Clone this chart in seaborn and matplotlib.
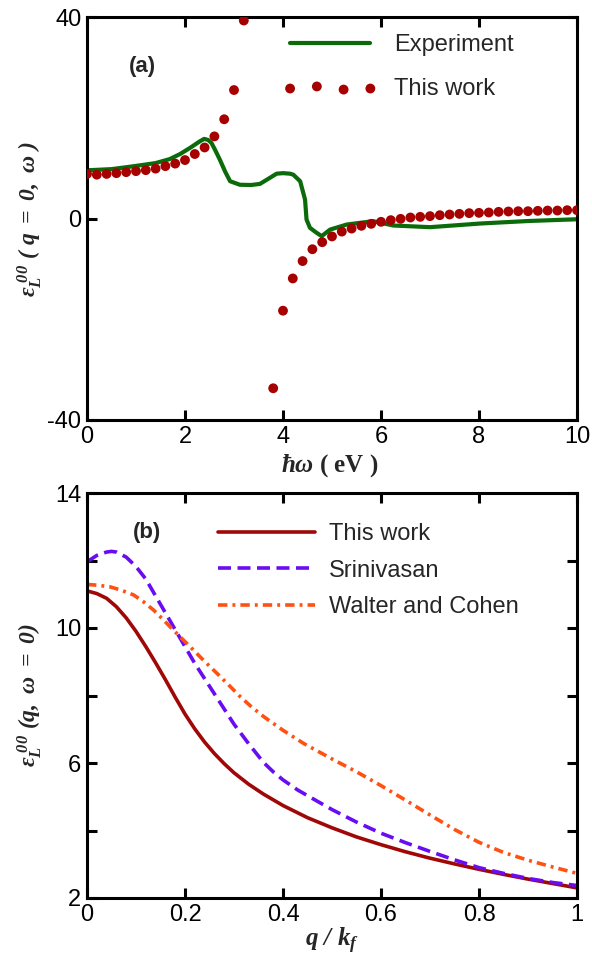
import numpy as np
import pandas as pd
import seaborn as sns
import matplotlib
matplotlib.use("Agg")
import matplotlib.pyplot as plt

# ---------------- data (panel a) ----------------
exp_energy = [0.0, 0.5, 0.94, 1.4, 1.69, 1.9, 2.1, 2.3, 2.39, 2.47, 2.54, 2.62, 2.71, 2.82, 2.92,
              3.12, 3.35, 3.53, 3.67, 3.87, 4.0, 4.14, 4.21, 4.28, 4.35, 4.45, 4.48, 4.55,
              4.68, 4.79, 4.96, 5.3, 5.84, 6.25, 7.0, 8.02, 9.0, 10.0]
exp_eps = [9.57, 9.8, 10.36, 11.0, 11.8, 12.8, 14.0, 15.3, 15.8, 15.6, 15.0, 13.5, 11.7, 9.3, 7.4,
           6.7, 6.65, 6.87, 7.7, 8.9, 9.0, 8.9, 8.7, 8.05, 7.4, 3.76, -0.2, -1.85,
           -2.8, -3.5, -2.2, -1.2, -0.53, -1.39, -1.72, -1.0, -0.5, -0.15]

calc_energy = [0.0, 0.2, 0.4, 0.6, 0.8, 1.0, 1.2, 1.4, 1.6, 1.8, 2.0, 2.2, 2.4, 2.6, 2.8, 3.0, 3.2,
               3.8, 4.0, 4.2, 4.4, 4.6, 4.8, 5.0, 5.2, 5.4, 5.6, 5.8, 6.0, 6.2, 6.4, 6.6, 6.8,
               7.0, 7.2, 7.4, 7.6, 7.8, 8.0, 8.2, 8.4, 8.6, 8.8, 9.0, 9.2, 9.4, 9.6, 9.8, 10.0]
calc_eps = [8.85, 8.7, 8.85, 9.0, 9.2, 9.4, 9.6, 9.9, 10.4, 10.9, 11.6, 12.8, 14.1, 16.3, 19.7, 25.5, 39.3,
            -33.7, -18.3, -11.9, -8.45, -6.1, -4.7, -3.56, -2.6, -2.0, -1.45, -1.06, -0.66, -0.33, -0.07, 0.2, 0.33,
            0.47, 0.66, 0.79, 0.92, 1.06, 1.12, 1.19, 1.32, 1.39, 1.45, 1.45, 1.52, 1.58, 1.58, 1.65, 1.65]

# ---------------- data (panel b) ----------------
q_this = [0.0, 0.02, 0.04, 0.06, 0.08, 0.1, 0.12, 0.14, 0.16, 0.18, 0.2, 0.22, 0.24, 0.26, 0.28,
          0.3, 0.33, 0.36, 0.4, 0.45, 0.5, 0.55, 0.6, 0.65, 0.7, 0.75, 0.8, 0.85, 0.9, 0.95, 1.0]
eps_this = [11.1, 11.02, 10.88, 10.63, 10.3, 9.9, 9.45, 8.97, 8.47, 7.95, 7.45, 7.01, 6.62, 6.28,
            5.98, 5.71, 5.37, 5.08, 4.74, 4.38, 4.08, 3.81, 3.58, 3.37, 3.18, 3.01, 2.85, 2.7,
            2.56, 2.43, 2.3]

q_sri = [0.0, 0.02, 0.04, 0.05, 0.06, 0.08, 0.1, 0.12, 0.14, 0.16, 0.18, 0.2, 0.22, 0.24, 0.26,
         0.28, 0.3, 0.33, 0.36, 0.38, 0.4, 0.43, 0.46, 0.5, 0.55, 0.6, 0.65, 0.7, 0.75, 0.8, 0.85,
         0.9, 0.95, 1.0]
eps_sri = [11.96, 12.15, 12.25, 12.27, 12.25, 12.1, 11.82, 11.45, 10.95, 10.45, 9.95, 9.45, 8.95,
           8.5, 8.05, 7.6, 7.15, 6.57, 6.02, 5.74, 5.5, 5.2, 4.95, 4.62, 4.25, 3.92, 3.64, 3.38,
           3.13, 2.9, 2.73, 2.58, 2.46, 2.37]

q_wc = [0.0, 0.02, 0.047, 0.07, 0.095, 0.115, 0.136, 0.156, 0.176, 0.197, 0.217, 0.24, 0.265,
        0.29, 0.313, 0.336, 0.361, 0.4, 0.442, 0.5, 0.55, 0.6, 0.65, 0.7, 0.75, 0.8,
        0.85, 0.9, 0.95, 1.0]
eps_wc = [11.29, 11.27, 11.22, 11.12, 10.98, 10.78, 10.53, 10.24, 9.94, 9.64, 9.35, 9.01, 8.66,
          8.3, 7.96, 7.66, 7.37, 6.97, 6.58, 6.12, 5.74, 5.33, 4.9, 4.46, 4.03, 3.65,
          3.35, 3.12, 2.92, 2.73]

# ---------------- style ----------------
sns.set_theme(style="ticks")
plt.rcParams["font.family"] = ["Liberation Sans", "DejaVu Sans"]
plt.rcParams["axes.unicode_minus"] = False
plt.rcParams["mathtext.fontset"] = "custom"
plt.rcParams["mathtext.it"] = "Liberation Serif:bold:italic"
plt.rcParams["mathtext.rm"] = "Liberation Serif:bold:italic"
plt.rcParams["mathtext.bf"] = "Liberation Serif:bold:italic"

GREEN = "#0b6b0b"
DOTRED = "#a60000"
LINERED = "#a00808"
PURPLE = "#6a0cf2"
ORANGE = "#ff5212"

fig = plt.figure(figsize=(5.92, 9.67), dpi=100)
W, H = 592, 967
axa = fig.add_axes([87 / W, 1 - 420 / H, (577 - 87) / W, (420 - 17) / H])
axb = fig.add_axes([87 / W, 1 - 898 / H, (577 - 87) / W, (898 - 493) / H])

df_exp = pd.DataFrame({"E": exp_energy, "eps": exp_eps})
df_calc = pd.DataFrame({"E": calc_energy, "eps": calc_eps})

sns.lineplot(data=df_exp, x="E", y="eps", ax=axa, color=GREEN, lw=3.0, label="Experiment",
             sort=False, zorder=2)
sns.scatterplot(data=df_calc, x="E", y="eps", ax=axa, color=DOTRED, s=50, edgecolor="none",
                label="This work", zorder=3)

axa.set_xlim(0, 10)
axa.set_ylim(-40, 40)
axa.set_xticks([0, 2, 4, 6, 8, 10])
axa.set_xticklabels(["0", "2", "4", "6", "8", "10"])
axa.set_yticks([-40, 0, 40])
axa.set_yticklabels(["-40", "0", "40"])

df_b = pd.concat([
    pd.DataFrame({"q": q_this, "eps": eps_this, "model": "This work"}),
    pd.DataFrame({"q": q_sri, "eps": eps_sri, "model": "Srinivasan"}),
    pd.DataFrame({"q": q_wc, "eps": eps_wc, "model": "Walter and Cohen"}),
])
palette = {"This work": LINERED, "Srinivasan": PURPLE, "Walter and Cohen": ORANGE}
sns.lineplot(data=df_b, x="q", y="eps", hue="model", ax=axb, palette=palette, lw=2.6, sort=True)
lines = axb.get_lines()
for ln in lines:
    ln.set_solid_joinstyle("round")
    ln.set_dash_joinstyle("round")
lines[1].set_dashes([3.6, 1.8])
lines[2].set_dashes([2.6, 1.4, 0.8, 1.4])

axb.set_xlim(0, 1)
axb.set_ylim(2, 14)
axb.set_xticks([0, 0.2, 0.4, 0.6, 0.8, 1.0])
axb.set_xticklabels(["0", "0.2", "0.4", "0.6", "0.8", "1"])
axb.set_yticks([2, 4, 6, 8, 10, 12, 14])
axb.set_yticklabels(["2", "", "6", "", "10", "", "14"])

for ax in (axa, axb):
    for sp in ax.spines.values():
        sp.set_linewidth(2.2)
        sp.set_color("black")
    ax.tick_params(direction="in", length=7, width=2.2, labelsize=17, colors="black",
                   top=True, right=True, pad=4)
    ax.set_xlabel("")
    ax.set_ylabel("")

# panel labels
axa.text(1.14, 30.1, "(a)", fontsize=16, fontweight="bold", ha="center", va="center")
axb.text(0.123, 12.84, "(b)", fontsize=16, fontweight="bold", ha="center", va="center")

# axis labels
fig.text(330 / W, 1 - 466 / H, r"$\hbar\omega$ ( eV )", fontsize=18, fontweight="bold",
         family="Liberation Serif", ha="center", va="center")
fig.text(30 / W, 1 - 219 / H, r"$\varepsilon_L^{\ 00}\ (\ q\ =\ 0,\ \omega\ )$", fontsize=17,
         rotation=90, ha="center", va="center")
fig.text(30 / W, 1 - 695 / H, r"$\varepsilon_L^{\ 00}\ (q,\ \omega\ =\ 0)$", fontsize=17,
         rotation=90, ha="center", va="center")
fig.text(332 / W, 1 - 941 / H, r"$q\ /\ k_f$", fontsize=18, ha="center", va="center")

# legends
leg_a = axa.legend(loc="upper left", bbox_to_anchor=(283 / W, 1 - 34 / H),
                   bbox_transform=fig.transFigure, frameon=False, fontsize=17,
                   handlelength=4.0, numpoints=4, scatterpoints=4, labelspacing=0.92,
                   borderpad=0, borderaxespad=0, handletextpad=0.7)
leg_b = axb.legend(loc="upper left", bbox_to_anchor=(218 / W, 1 - 523 / H),
                   bbox_transform=fig.transFigure, frameon=False, fontsize=17,
                   handlelength=4.1, labelspacing=0.62, borderpad=0, borderaxespad=0,
                   handletextpad=0.6)
for h in leg_b.get_lines():
    h.set_linewidth(2.6)
leg_b.get_lines()[1].set_dashes([3.6, 1.8])
leg_b.get_lines()[2].set_dashes([2.6, 1.4, 0.8, 1.4])

fig.savefig("out.png", dpi=100)
